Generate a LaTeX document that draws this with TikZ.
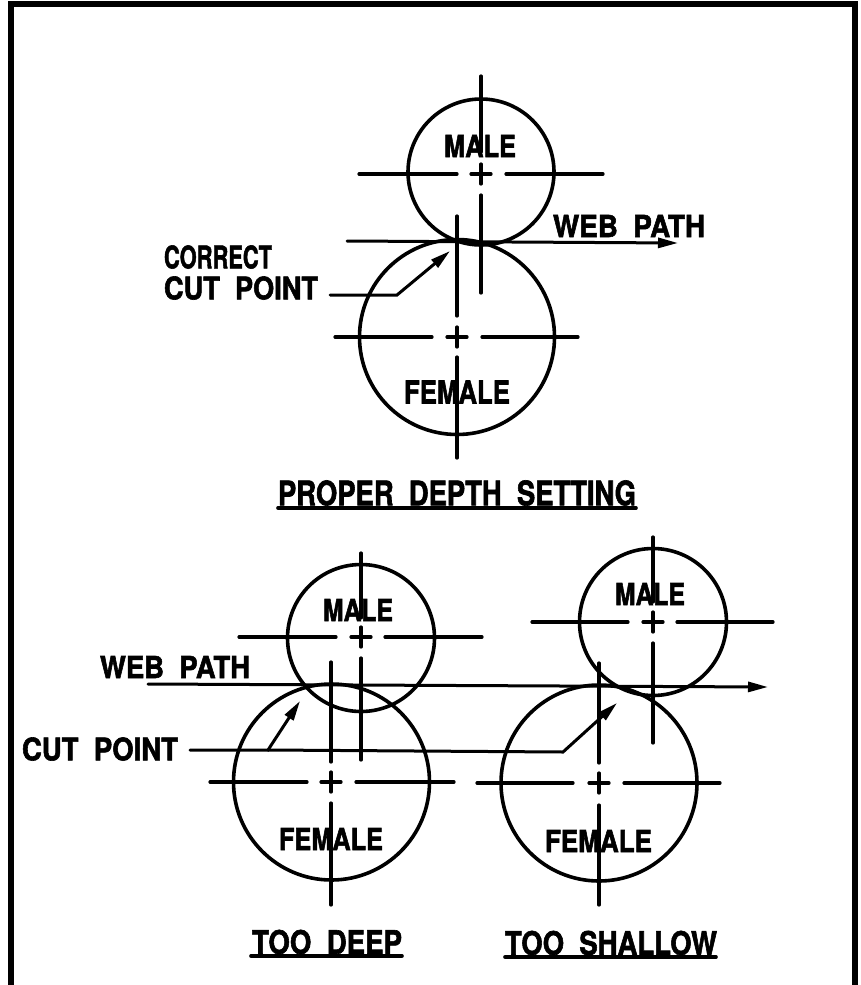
\documentclass[tikz,border=0pt]{standalone}
\usepackage{graphicx}
\usepackage{fontspec}
\setmainfont[BoldFeatures={FakeBold=2}]{TeX Gyre Heros}
\usetikzlibrary{arrows.meta}
\tikzset{
  frameline/.style={line width=5.5pt},
  roll/.style={circle,draw,line width=3.6pt,inner sep=0pt,outer sep=0pt},
  axis/.style={line width=3.2pt,line cap=round},
  path line/.style={line width=3pt,line cap=round},
  pointer/.style={line width=3pt,line cap=round,line join=miter},
  tip/.style={-{Stealth[length=20pt,width=10pt,inset=0pt]}},
  lbl/.style={inner sep=0pt,outer sep=0pt,anchor=west},
  rule/.style={line width=3.6pt,line cap=round}
}
% name, left x, centre y, width, height, text
\newcommand{\lab}[6]{\node[lbl] (#1) at (#2,#3) {\resizebox{#4pt}{#5pt}{\textbf{#6}}};}
\newcommand{\cmark}[2]{%
  \draw[axis] (#1-10,#2) -- (#1+10,#2);
  \draw[axis] (#1,#2-10) -- (#1,#2+10);}
\begin{document}
\begin{tikzpicture}[x=1pt,y=-1pt]
\useasboundingbox (0,0) rectangle (860,985);
\fill[white] (0,0) rectangle (860,985);
\coordinate (fa) at (11,985); \coordinate (fb) at (11,4);
\coordinate (fc) at (855,4); \coordinate (fd) at (855,985);
\draw[frameline] (fa) -- (fb) -- (fc) -- (fd);

% ---- proper depth setting
\node[roll,minimum size=146pt] (m1) at (481,172) {};
\node[roll,minimum size=195pt] (f1) at (457,337) {};
\draw[axis] (359,174) -- (457,174); \draw[axis] (506,174) -- (603,174);
\draw[axis] (481,76) -- (481,152); \draw[axis] (481,195) -- (481,293);
\cmark{481}{174}
\draw[axis] (335,337) -- (432,337); \draw[axis] (482,337) -- (578,337);
\draw[axis] (457,216) -- (457,316); \draw[axis] (457,357) -- (457,458);
\cmark{457}{337}
\coordinate (w1a) at (347,241); \coordinate (w1b) at (678,243);
\draw[path line,tip] (w1a) -- (w1b);
\coordinate (c1a) at (330,295); \coordinate (c1b) at (397,295); \coordinate (c1c) at (450,251);
\draw[pointer,tip] (c1a) -- (c1b) -- (c1c);
\lab{t1}{444}{146}{72}{22}{MALE}
\lab{t2}{553}{226}{152}{22}{WEB\ \ PATH}
\lab{t3}{164}{257}{108}{23}{CORRECT}
\lab{t4}{164}{288}{154}{23}{CUT\ \ POINT}
\lab{t5}{404}{392}{106}{23}{FEMALE}
\lab{t6}{278}{493}{358}{25}{PROPER\ \ DEPTH\ \ SETTING}
\coordinate (u1a) at (278,508); \coordinate (u1b) at (636,508);
\draw[rule] (u1a) -- (u1b);

% ---- too deep
\node[roll,minimum size=147pt] (m2) at (361,638) {};
\node[roll,minimum size=196pt] (f2) at (331.5,782) {};
\draw[axis] (239,637) -- (336,637); \draw[axis] (385,637) -- (482,637);
\draw[axis] (361,553) -- (361,618); \draw[axis] (361,658) -- (361,760);
\cmark{361}{637}
\draw[axis] (210,782) -- (307,782); \draw[axis] (356,782) -- (454,782);
\draw[axis] (331,662) -- (331,762); \draw[axis] (331,803) -- (331,905);
\cmark{331}{782}
\lab{t7}{323}{610}{70}{22}{MALE}
\lab{t8}{100}{667}{150}{22}{WEB\ \ PATH}
\lab{t9}{22}{749}{156}{23}{CUT\ \ POINT}
\lab{t10}{279}{839}{104}{22}{FEMALE}
\lab{t11}{252}{942}{150}{24}{TOO\ \ DEEP}
\coordinate (u2a) at (251,956); \coordinate (u2b) at (402,956);
\draw[rule] (u2a) -- (u2b);

% ---- too shallow
\node[roll,minimum size=147pt] (m3) at (653,622) {};
\node[roll,minimum size=196pt] (f3) at (599,783) {};
\draw[axis] (532,622) -- (628,622); \draw[axis] (677,622) -- (773,622);
\draw[axis] (653,537) -- (653,602); \draw[axis] (653,643) -- (653,743);
\cmark{653}{622}
\draw[axis] (477,783) -- (573,783); \draw[axis] (624,783) -- (720,783);
\draw[axis] (599,663) -- (599,763); \draw[axis] (599,805) -- (599,905);
\cmark{599}{783}
\lab{t12}{615}{594}{70}{22}{MALE}
\lab{t13}{545}{841}{107}{22}{FEMALE}
\lab{t14}{505}{943}{212}{24}{TOO\ \ SHALLOW}
\coordinate (u3a) at (505,957); \coordinate (u3b) at (716,957);
\draw[rule] (u3a) -- (u3b);

% ---- shared web path and cut point leader
\coordinate (w2a) at (148,684); \coordinate (w2b) at (768,687);
\draw[path line,tip] (w2a) -- (w2b);
\coordinate (c2a) at (190,750); \coordinate (c2b) at (268,750); \coordinate (c2c) at (300,701);
\draw[pointer,tip] (c2a) -- (c2b) -- (c2c);
\coordinate (c3a) at (268,750); \coordinate (c3b) at (563,752); \coordinate (c3c) at (617,703);
\draw[pointer,tip] (c3a) -- (c3b) -- (c3c);
\end{tikzpicture}
\end{document}
